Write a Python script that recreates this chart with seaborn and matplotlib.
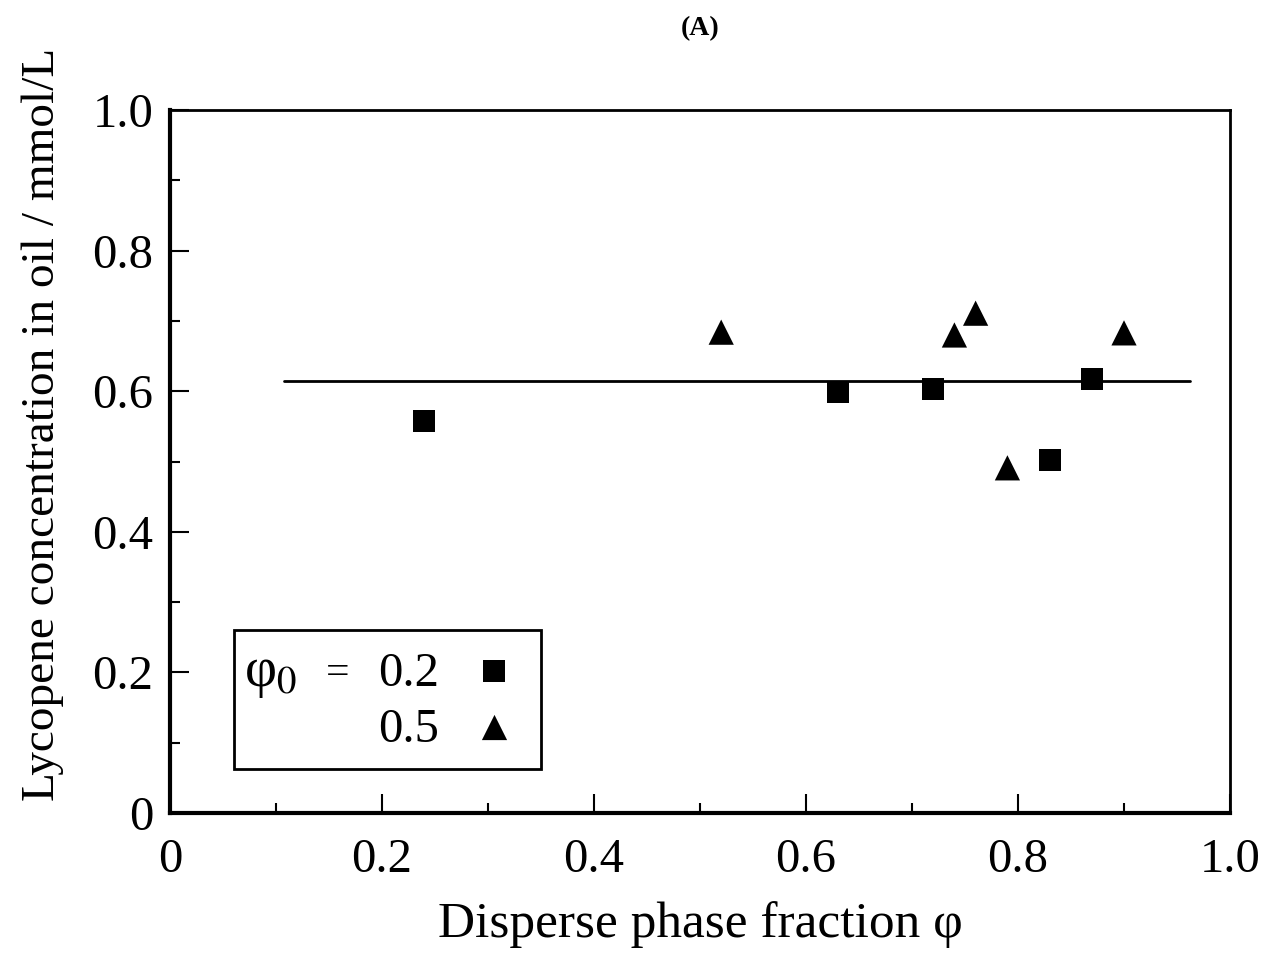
import matplotlib
matplotlib.use("Agg")
import matplotlib.pyplot as plt
from matplotlib.patches import Rectangle
from matplotlib.ticker import MultipleLocator, FuncFormatter
import pandas as pd
import seaborn as sns

# data
sq_x = [0.24, 0.63, 0.72, 0.83, 0.87]
sq_y = [0.558, 0.599, 0.603, 0.502, 0.617]
tri_x = [0.52, 0.74, 0.76, 0.79, 0.90]
tri_y = [0.684, 0.680, 0.711, 0.491, 0.683]
series = ["0.2", "0.5"]
fit_x = [0.108, 0.962]
fit_y = [0.614, 0.614]

df = pd.DataFrame({
    "phi": sq_x + tri_x,
    "conc": sq_y + tri_y,
    "phi0": [series[0]] * len(sq_x) + [series[1]] * len(tri_x),
})
fit = pd.DataFrame({"phi": fit_x, "conc": fit_y})

sns.set_style("ticks", {"axes.edgecolor": "black", "text.color": "black",
                        "axes.labelcolor": "black", "xtick.color": "black",
                        "ytick.color": "black"})
plt.rcParams["font.family"] = ["Liberation Serif", "DejaVu Serif"]
plt.rcParams["mathtext.fontset"] = "stix"

fig = plt.figure(figsize=(12.81, 9.56), dpi=100)
ax = fig.add_axes([0.1327, 0.1496, 0.8275, 0.7353])

sns.lineplot(data=fit, x="phi", y="conc", color="black", linewidth=2, ax=ax)
sns.scatterplot(data=df, x="phi", y="conc", style="phi0", size="phi0",
                markers={"0.2": "s", "0.5": "^"},
                sizes={"0.2": 250, "0.5": 330}, color="black",
                linewidth=0, legend=False, ax=ax)

ax.set_xlim(0, 1.0)
ax.set_ylim(0, 1.0)
ax.xaxis.set_major_locator(MultipleLocator(0.2))
ax.xaxis.set_minor_locator(MultipleLocator(0.1))
ax.yaxis.set_major_locator(MultipleLocator(0.2))
ax.yaxis.set_minor_locator(MultipleLocator(0.1))

def fmt(v, _):
    if abs(v) < 1e-9:
        return "0"
    return f"{v:.1f}"

ax.xaxis.set_major_formatter(FuncFormatter(fmt))
ax.yaxis.set_major_formatter(FuncFormatter(fmt))
ax.tick_params(which="major", direction="in", length=14, width=1.5,
               labelsize=35, pad=18, colors="black")
ax.tick_params(which="minor", direction="in", length=7, width=1.5,
               colors="black")
ax.tick_params(axis="y", pad=12)

for side in ["left", "bottom"]:
    ax.spines[side].set_linewidth(3)
for side in ["top", "right"]:
    ax.spines[side].set_linewidth(2)

ax.set_xlabel("Disperse phase fraction φ", fontsize=37, labelpad=14)
ax.set_ylabel("Lycopene concentration in oil / mmol/L", fontsize=34)
ax.yaxis.set_label_coords(-0.1, 0.553)
fig.text(0.5465, 0.97, "(A)", fontsize=20, fontweight="bold",
         ha="center", va="center")

# legend box with φ0 label
ax.add_patch(Rectangle((0.06, 0.062), 0.29, 0.198, transform=ax.transAxes,
                       fill=False, edgecolor="black", linewidth=2))
ax.text(0.07, 0.198, "φ$_0$", fontsize=40, transform=ax.transAxes,
        va="center", ha="left")
ax.text(0.158, 0.198, "=", fontsize=30, transform=ax.transAxes,
        va="center", ha="center")
ax.text(0.196, 0.198, series[0], fontsize=35, transform=ax.transAxes,
        va="center", ha="left")
ax.text(0.196, 0.118, series[1], fontsize=35, transform=ax.transAxes,
        va="center", ha="left")
ax.scatter([0.306], [0.202], marker="s", s=250, color="black",
           transform=ax.transAxes, linewidth=0)
ax.scatter([0.306], [0.122], marker="^", s=330, color="black",
           transform=ax.transAxes, linewidth=0)

fig.savefig("out.png", dpi=100)
